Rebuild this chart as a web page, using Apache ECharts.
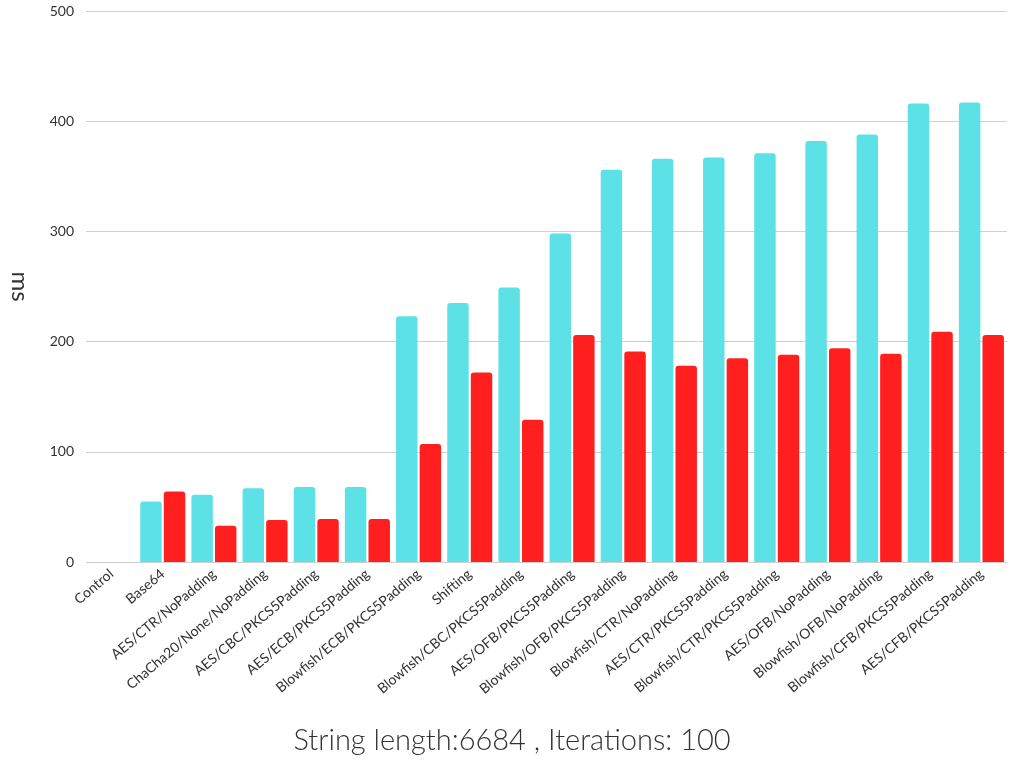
<!DOCTYPE html>
<html>
<head>
<meta charset="utf-8">
<script src="https://cdn.jsdelivr.net/npm/echarts@6/dist/echarts.min.js"></script>
<style>html,body{margin:0;padding:0;background:#fff}#chart{width:1024px;height:768px}</style>
</head>
<body>
<div id="chart"></div>
<script>
const categories = ['Control', 'Base64', 'AES/CTR/NoPadding', 'ChaCha20/None/NoPadding', 'AES/CBC/PKCS5Padding',
    'AES/ECB/PKCS5Padding', 'Blowfish/ECB/PKCS5Padding', 'Shifting', 'Blowfish/CBC/PKCS5Padding',
    'AES/OFB/PKCS5Padding', 'Blowfish/OFB/PKCS5Padding', 'Blowfish/CTR/NoPadding', 'AES/CTR/PKCS5Padding',
    'Blowfish/CTR/PKCS5Padding', 'AES/OFB/NoPadding', 'Blowfish/OFB/NoPadding', 'Blowfish/CFB/PKCS5Padding',
    'AES/CFB/PKCS5Padding'];
const cyanValues = [0, 55, 61, 67, 68, 68, 223, 235, 249, 298, 356, 366, 367, 371, 382, 388, 416, 417];
const redValues = [0, 64, 33, 38, 39, 39, 107, 172, 129, 206, 191, 178, 185, 188, 194, 189, 209, 206];
const xTitle = 'String length:6684 , Iterations: 100';

var myChart = echarts.init(document.getElementById('chart'));
const option = {
    textStyle: { fontFamily: 'Lato' },
    title: {
        text: xTitle,
        left: 'center',
        bottom: 8,
        textStyle: { fontSize: 29, fontWeight: 300, color: '#333', fontFamily: 'Lato' }
    },
    grid: { left: 74, right: 17, top: 11, bottom: 206 },
    xAxis: {
        type: 'category',
        data: categories,
        axisLine: { show: false },
        axisTick: { show: false },
        axisLabel: { rotate: 40, fontSize: 14, color: '#333', margin: 10, interval: 0 }
    },
    yAxis: {
        type: 'value',
        min: 0,
        max: 500,
        interval: 100,
        name: 'ms',
        nameLocation: 'middle',
        nameRotate: -90,
        nameGap: 54,
        nameTextStyle: { fontSize: 24, color: '#333' },
        axisLabel: { fontSize: 14, color: '#333', margin: 12 },
        splitLine: { lineStyle: { color: '#d0d0d0' } }
    },
    series: [
        {
            type: 'bar',
            data: cyanValues,
            barGap: '10%',
            barCategoryGap: '12%',
            itemStyle: { color: '#5ce1e6', borderRadius: [3, 3, 0, 0] }
        },
        {
            type: 'bar',
            data: redValues,
            itemStyle: { color: '#ff1f1f', borderRadius: [3, 3, 0, 0] }
        }
    ]
};
myChart.setOption(option);
</script>
</body>
</html>
